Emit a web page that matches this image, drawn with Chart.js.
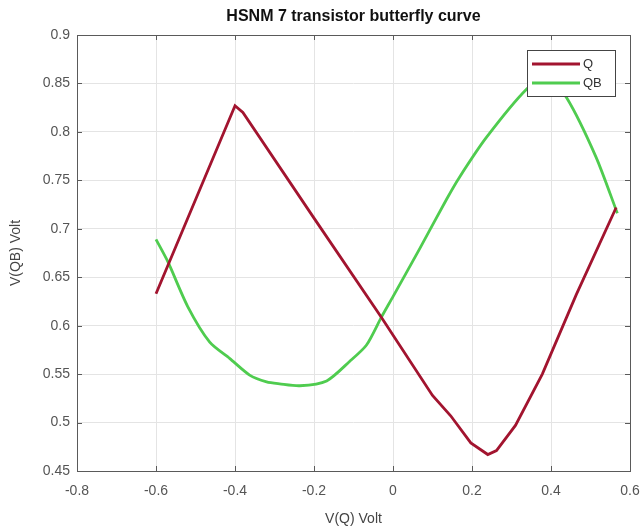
<!DOCTYPE html>
<html>
<head>
<meta charset="utf-8">
<script src="https://cdn.jsdelivr.net/npm/chart.js@4.4.1/dist/chart.umd.min.js"></script>
<style>
    body { margin: 0; background: #fff; }
    #wrap { width: 643px; height: 529px; }
</style>
</head>
<body>
<div id="wrap"><canvas id="butterfly"></canvas></div>
<script>
// values
const qX  = [-0.6, -0.4, -0.38, -0.2, -0.03, 0.1, 0.146, 0.197, 0.24, 0.262, 0.31, 0.378, 0.464, 0.565];
const qY  = [0.633, 0.827, 0.82, 0.711, 0.609, 0.528, 0.507, 0.479, 0.467, 0.471, 0.497, 0.55, 0.632, 0.722];

const qbX = [-0.6, -0.57, -0.52, -0.464, -0.413, -0.363, -0.32, -0.287, -0.236, -0.168, -0.11, -0.067, -0.029, 0, 0.067, 0.135, 0.168, 0.236, 0.338, 0.39, 0.44, 0.514, 0.568];
const qbY = [0.689, 0.666, 0.62, 0.583, 0.566, 0.549, 0.542, 0.54, 0.538, 0.543, 0.563, 0.58, 0.609, 0.63, 0.679, 0.73, 0.753, 0.794, 0.844, 0.857, 0.835, 0.774, 0.716];

const seriesNames = ['Q', 'QB'];
const xTicks = [-0.8, -0.6, -0.4, -0.2, 0, 0.2, 0.4, 0.6];
const yTicks = [0.45, 0.5, 0.55, 0.6, 0.65, 0.7, 0.75, 0.8, 0.85, 0.9];
const chartTitle = 'HSNM 7 transistor butterfly curve';

function toPoints(xs, ys) {
    return xs.map((x, i) => ({x: x, y: ys[i]}));
}

const FONT = "'Liberation Sans', Arial, sans-serif";
const boxColor = '#5a5a5a';

// box around the axes + inward ticks on all four sides (matlab style)
const axesBox = {
    id: 'axesBox',
    afterDatasetsDraw(chart) {
        const {ctx, chartArea: a, scales} = chart;
        ctx.save();
        ctx.strokeStyle = boxColor;
        ctx.lineWidth = 1;
        ctx.strokeRect(a.left + 0.5, a.top + 0.5, a.right - a.left, a.bottom - a.top);
        ctx.beginPath();
        xTicks.forEach(v => {
            const px = Math.round(scales.x.getPixelForValue(v)) + 0.5;
            ctx.moveTo(px, a.bottom); ctx.lineTo(px, a.bottom - 5);
            ctx.moveTo(px, a.top); ctx.lineTo(px, a.top + 5);
        });
        yTicks.forEach(v => {
            const py = Math.round(scales.y.getPixelForValue(v)) + 0.5;
            ctx.moveTo(a.left, py); ctx.lineTo(a.left + 5, py);
            ctx.moveTo(a.right, py); ctx.lineTo(a.right - 5, py);
        });
        ctx.stroke();
        // title centred over the axes, not the canvas
        ctx.fillStyle = '#111';
        ctx.font = 'bold 16px ' + FONT;
        ctx.textAlign = 'center';
        ctx.textBaseline = 'middle';
        ctx.fillText(chartTitle, (a.left + a.right) / 2, 17);
        ctx.restore();
    }
};

// legend box in the top right corner of the axes
const cornerLegend = {
    id: 'cornerLegend',
    afterDraw(chart) {
        const {ctx, chartArea: a} = chart;
        const w = 88, h = 46;
        const x0 = a.right - 15 - w, y0 = a.top + 15;
        ctx.save();
        ctx.fillStyle = '#fff';
        ctx.fillRect(x0, y0, w, h);
        ctx.strokeStyle = '#444';
        ctx.lineWidth = 1;
        ctx.strokeRect(x0 + 0.5, y0 + 0.5, w, h);
        ctx.font = '13px ' + FONT;
        ctx.textBaseline = 'middle';
        chart.data.datasets.forEach((ds, i) => {
            const yy = y0 + 14 + i * 19;
            ctx.strokeStyle = ds.borderColor;
            ctx.lineWidth = 2.8;
            ctx.beginPath();
            ctx.moveTo(x0 + 5, yy);
            ctx.lineTo(x0 + 53, yy);
            ctx.stroke();
            ctx.fillStyle = '#333';
            ctx.fillText(ds.label, x0 + 56, yy);
        });
        ctx.restore();
    }
};

new Chart(document.getElementById('butterfly'), {
    type: 'scatter',
    data: {
        datasets: [{
            label: seriesNames[0],
            data: toPoints(qX, qY),
            showLine: true,
            borderColor: '#a2142f',
            borderWidth: 2.8,
            pointRadius: 0,
            tension: 0
        }, {
            label: seriesNames[1],
            data: toPoints(qbX, qbY),
            showLine: true,
            borderColor: '#4fcc4f',
            borderWidth: 2.8,
            pointRadius: 0,
            tension: 0.25
        }]
    },
    options: {
        responsive: true,
        maintainAspectRatio: false,
        animation: false,
        layout: {padding: {left: 0, right: 13, top: 35, bottom: 0}},
        scales: {
            x: {
                type: 'linear',
                min: -0.8,
                max: 0.6,
                afterBuildTicks: s => { s.ticks = xTicks.map(v => ({value: v})); },
                afterFit: s => { s.height = 58; s.paddingLeft = 0; s.paddingRight = 0; },
                grid: {color: '#e4e4e4', drawTicks: false},
                border: {display: false},
                ticks: {
                    padding: 12,
                    color: '#555',
                    font: {family: FONT, size: 14},
                    callback: v => String(v)
                },
                title: {
                    display: true,
                    text: 'V(Q) Volt',
                    color: '#444',
                    font: {family: FONT, size: 14},
                    padding: {top: 0, bottom: 1}
                }
            },
            y: {
                type: 'linear',
                min: 0.45,
                max: 0.9,
                afterBuildTicks: s => { s.ticks = yTicks.map(v => ({value: v})); },
                afterFit: s => { s.width = 77; s.paddingTop = 0; s.paddingBottom = 0; },
                grid: {color: '#e4e4e4', drawTicks: false},
                border: {display: false},
                ticks: {
                    padding: 7,
                    color: '#555',
                    font: {family: FONT, size: 14},
                    callback: v => String(v)
                },
                title: {
                    display: true,
                    text: 'V(QB) Volt',
                    color: '#444',
                    font: {family: FONT, size: 14},
                    padding: {top: 8, bottom: 0}
                }
            }
        },
        plugins: {
            legend: {display: false},
            tooltip: {enabled: false},
            title: {display: false}
        }
    },
    plugins: [axesBox, cornerLegend]
});
</script>
</body>
</html>
